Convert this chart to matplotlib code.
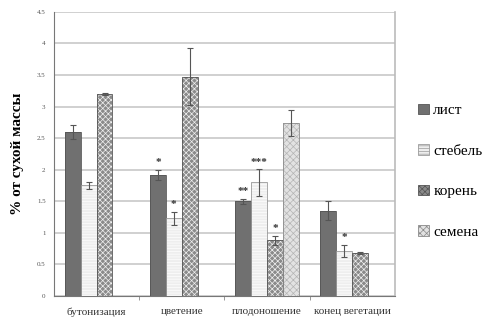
import numpy as np
import matplotlib.pyplot as plt
from matplotlib.patches import Patch

# данные
stages = ['бутонизация', 'цветение', 'плодоношение', 'конец вегетации']
series = ['лист', 'стебель', 'корень', 'семена']

leaf = [2.6, 1.92, 1.5, 1.35]
leaf_err = [0.11, 0.08, 0.04, 0.15]
stem = [1.75, 1.23, 1.8, 0.71]
stem_err = [0.05, 0.1, 0.21, 0.1]
root = [3.2, 3.47, 0.88, 0.68]
root_err = [0.02, 0.45, 0.07, 0.02]
seeds = [0, 0, 2.74, 0]
seeds_err = [0, 0, 0.2, 0]

stars = {(1, 0): '*', (1, 1): '*', (2, 0): '**', (2, 1): '***', (2, 2): '*', (3, 1): '*'}

values = [leaf, stem, root, seeds]
errors = [leaf_err, stem_err, root_err, seeds_err]
faces = ['#707070', '#eeeeee', '#8a8a8a', '#e2e2e2']
hatches = [None, '------', 'xxxxxx', 'xxxxx']
hatch_cols = ['#5a5a5a', '#ffffff', '#f0f0f0', '#b4b4b4']
edges = ['#555555', '#9a9a9a', '#555555', '#8a8a8a']

plt.rcParams['font.family'] = ['Liberation Serif', 'DejaVu Serif']
plt.rcParams['hatch.linewidth'] = 0.5

fig = plt.figure(figsize=(4.9, 3.23), dpi=100)
ax = fig.add_axes([0.110, 0.0836, 0.696, 0.880])

x = np.arange(len(stages))
w = 0.187
for i in range(4):
    pos = x + (i - 1.5) * w
    for j in range(4):
        v = values[i][j]
        if v == 0:
            continue
        ax.bar(pos[j], v, w, color=faces[i], edgecolor=hatch_cols[i] if hatches[i] else edges[i],
               hatch=hatches[i], linewidth=0, zorder=3)
        ax.bar(pos[j], v, w, color='none', edgecolor=edges[i], linewidth=0.6, zorder=4)
        ax.errorbar(pos[j], v, yerr=errors[i][j], fmt='none', ecolor='#555555',
                    elinewidth=0.8, capsize=2, capthick=0.8, zorder=5)
        if (j, i) in stars:
            ax.text(pos[j], v + errors[i][j] + 0.04, stars[(j, i)], ha='center', va='bottom',
                    fontsize=8, fontweight='bold', color='#333333', zorder=6)

ax.set_xlim(-0.5, 3.5)
ax.set_ylim(0, 4.5)
ax.set_yticks(np.arange(0, 4.51, 0.5))
ax.set_yticklabels(['0', '0.5', '1', '1.5', '2', '2.5', '3', '3.5', '4', '4.5'])
ax.tick_params(axis='y', labelsize=5, colors='#555555', length=0, pad=6)
ax.set_xticks(x)
ax.set_xticklabels(stages, fontsize=8, color='#333333')
ax.set_xticks([0.5, 1.5, 2.5], minor=True)
ax.tick_params(axis='x', which='major', length=0, pad=8)
ax.tick_params(axis='x', which='minor', length=3, color='#888888')
ax.grid(axis='y', color='#c8c8c8', linewidth=1.2, zorder=0)
ax.set_axisbelow(True)
ax.spines['top'].set_visible(False)
ax.spines['left'].set_color('#777777')
ax.spines['bottom'].set_color('#777777')
ax.spines['right'].set_color('#bbbbbb')
ax.spines['right'].set_linewidth(1.2)

ax.set_ylabel('% от сухой массы', fontsize=11, fontweight='bold', labelpad=9)

handles = [Patch(facecolor=faces[i], edgecolor=edges[i], hatch=hatches[i], linewidth=0.6)
           for i in range(4)]
fig.legend(handles, series, loc='center left', bbox_to_anchor=(0.825, 0.47), frameon=False,
           fontsize=11, handlelength=0.7, handleheight=0.7, handletextpad=0.3, labelspacing=1.75)

fig.savefig('out.png', dpi=100)
